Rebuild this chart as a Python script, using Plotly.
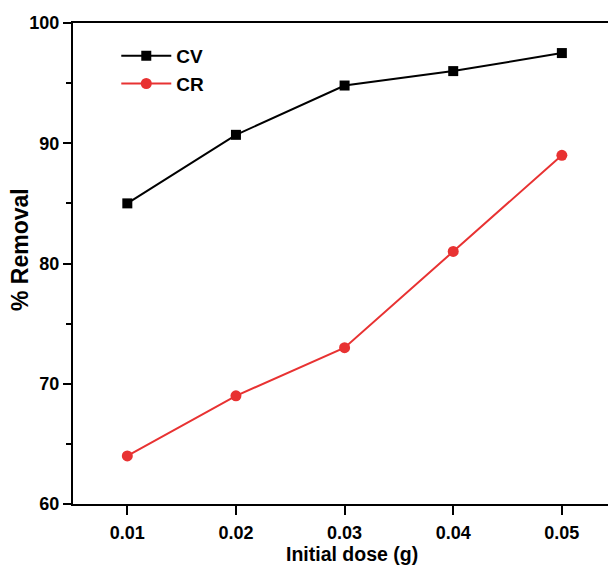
import plotly.graph_objects as go

dose = [0.01, 0.02, 0.03, 0.04, 0.05]
cv_removal = [85.0, 90.7, 94.8, 96.0, 97.5]
cr_removal = [64.0, 69.0, 73.0, 81.0, 89.0]
x_ticks = [0.01, 0.02, 0.03, 0.04, 0.05]
x_tick_labels = ["0.01", "0.02", "0.03", "0.04", "0.05"]
y_ticks = [60, 70, 80, 90, 100]
y_minor_ticks = [65, 75, 85, 95]

FONT = "Liberation Sans, Arial, sans-serif"

fig = go.Figure()
fig.add_trace(go.Scatter(
    x=dose, y=cv_removal, name="CV", mode="lines+markers",
    line=dict(color="black", width=2),
    marker=dict(symbol="square", size=10, color="black"),
))
fig.add_trace(go.Scatter(
    x=dose, y=cr_removal, name="CR", mode="lines+markers",
    line=dict(color="#e83232", width=2),
    marker=dict(symbol="circle", size=11, color="#e83232"),
))

fig.update_layout(
    width=608, height=558,
    margin=dict(l=65, r=0, t=15, b=62),
    plot_bgcolor="white", paper_bgcolor="white",
    font=dict(family=FONT, color="black", size=18, weight="bold"),
    showlegend=True,
    legend=dict(x=0.08, y=0.971, xanchor="left", yanchor="top",
                bgcolor="rgba(0,0,0,0)",
                font=dict(family=FONT, size=19, weight="bold"),
                itemwidth=50, tracegroupgap=4),
    xaxis=dict(
        range=[0.005, 0.0548], tickvals=x_ticks, ticktext=x_tick_labels,
        showgrid=False, zeroline=False,
        showline=True, linecolor="black", linewidth=2, mirror=True,
        ticks="outside", ticklen=9, tickwidth=2, tickcolor="black",
        ticklabelstandoff=2,
        tickfont=dict(family=FONT, size=18, weight="bold"),
    ),
    yaxis=dict(
        range=[60, 100], tickvals=y_ticks,
        showgrid=False, zeroline=False,
        showline=True, linecolor="black", linewidth=2, mirror=True,
        ticks="outside", ticklen=8, tickwidth=2, tickcolor="black",
        tickfont=dict(family=FONT, size=18, weight="bold"),
        minor=dict(tickvals=y_minor_ticks, ticks="outside", ticklen=5,
                   tickwidth=2, tickcolor="black", showgrid=False),
    ),
    annotations=[
        dict(
            text="% Removal", textangle=-90, showarrow=False,
            xref="paper", yref="paper", x=0, y=0.528,
            xanchor="center", yanchor="middle", xshift=-53,
            font=dict(family=FONT, size=23, weight="bold", color="black"),
        ),
        dict(
            text="Initial dose (g)", showarrow=False, borderpad=0,
            xref="paper", yref="paper", x=0.5, y=0,
            xanchor="center", yanchor="top", xshift=8, yshift=-38,
            font=dict(family=FONT, size=19.5, weight="bold", color="black"),
        ),
    ],
)

fig.write_html("out.html")
